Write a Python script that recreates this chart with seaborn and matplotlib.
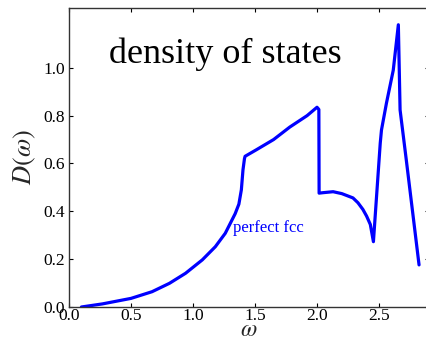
import matplotlib
matplotlib.use("Agg")
import matplotlib.pyplot as plt
import seaborn as sns
import pandas as pd

# Data
omega = [0.10, 0.27, 0.50, 0.67, 0.81, 0.94, 1.075, 1.18, 1.26, 1.34, 1.37,
         1.39, 1.403, 1.415, 1.42, 1.51, 1.65, 1.78, 1.92, 2.00, 2.015, 2.017,
         2.05, 2.13, 2.20, 2.29, 2.33, 2.37, 2.40, 2.43, 2.455, 2.51, 2.52,
         2.56, 2.615, 2.656, 2.67, 2.72, 2.823]
dos = [0.0, 0.013, 0.036, 0.064, 0.099, 0.141, 0.197, 0.252, 0.308, 0.39, 0.43,
       0.49, 0.573, 0.62, 0.63, 0.657, 0.70, 0.752, 0.80, 0.835, 0.826, 0.476,
       0.478, 0.482, 0.474, 0.456, 0.436, 0.408, 0.38, 0.345, 0.273, 0.685,
       0.74, 0.852, 0.99, 1.18, 0.824, 0.615, 0.176]
xticks = [0.0, 0.5, 1.0, 1.5, 2.0, 2.5]
yticks = [0.0, 0.2, 0.4, 0.6, 0.8, 1.0]
title_text = "density of states"
label_text = "perfect fcc"

sns.set_style("ticks")
plt.rcParams['font.family'] = ['Liberation Serif', 'DejaVu Serif']
plt.rcParams['mathtext.fontset'] = 'stix'

df = pd.DataFrame({"omega": omega, "dos": dos})

fig = plt.figure(figsize=(4.26, 3.42), dpi=100)
ax = fig.add_axes([69/426, 35/342, (428.6-69)/426, 299/342])
sns.lineplot(data=df, x="omega", y="dos", ax=ax, color="#0000ff", lw=2.3,
             sort=False, estimator=None)

ax.set_xlim(0, 2.9)
ax.set_ylim(0, 1.25)
ax.set_xticks(xticks)
ax.set_yticks(yticks)
ax.set_xticklabels([f"{t:.1f}" for t in xticks])
ax.set_yticklabels([f"{t:.1f}" for t in yticks])
ax.tick_params(direction="in", length=3, width=0.8, labelsize=12.5,
               top=True, right=True, pad=3, colors="black")
ax.tick_params(axis="x", pad=1)
for s in ax.spines.values():
    s.set_color("#333333")
    s.set_linewidth(1.0)

ax.set_xlabel(r"$\omega$", fontsize=17)
ax.xaxis.label.set_va("bottom")
ax.xaxis.set_label_coords(0.5, -33.5/299)
ax.set_ylabel(r"$D(\omega)$", fontsize=19, labelpad=4)

ax.text(1.262, 1.02, title_text, fontsize=26, ha="center", va="baseline",
        color="black")
ax.text(1.323, 0.314, label_text, fontsize=12, ha="left", va="baseline",
        color="#0000ff")

fig.savefig("out.png", dpi=100)
